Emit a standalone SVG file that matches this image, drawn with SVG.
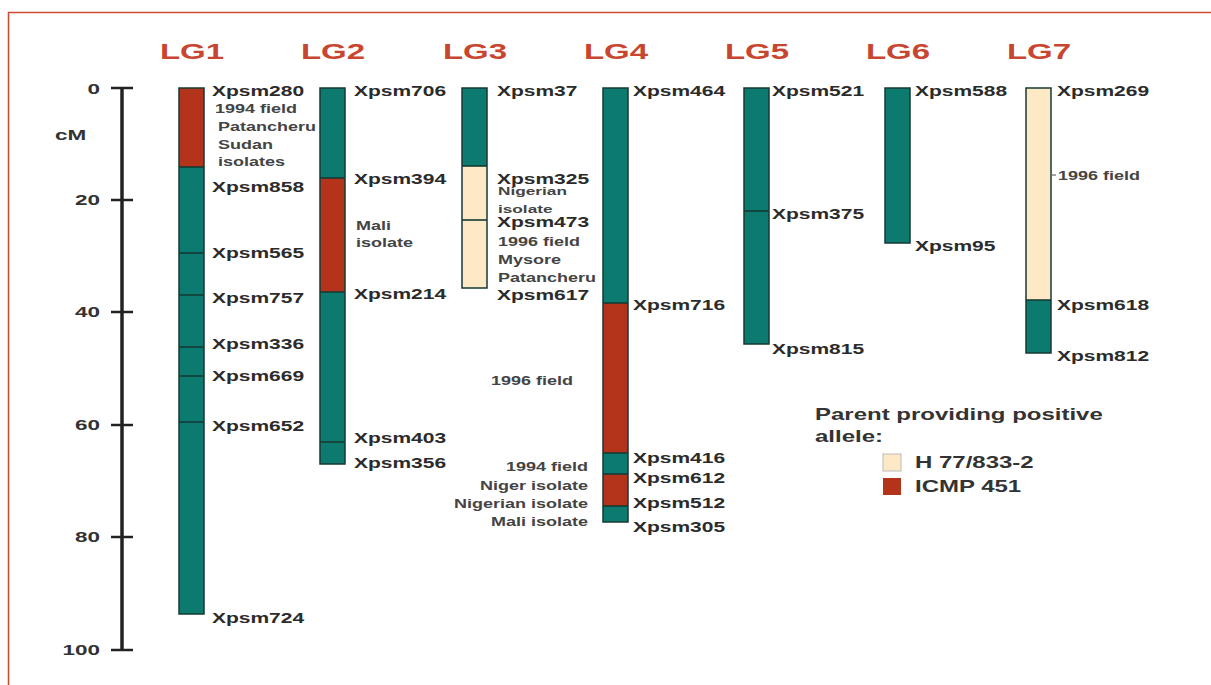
<svg xmlns="http://www.w3.org/2000/svg" width="1211" height="685" viewBox="0 0 1211 685">
<style>
.bar{stroke:#163a34;stroke-width:1.5}
.teal{fill:#0d7a6f}
.red{fill:#b3341b}
.cream{fill:#fde9c6}
.mk{stroke:#163a34;stroke-width:1.6}
text{font-family:"Liberation Sans",Arial,sans-serif;font-weight:bold}
.m{font-size:14px;fill:#2b2b2b}
.a{font-size:12px;fill:#444}
.ttl{font-size:22px;fill:#c8462f;text-anchor:middle}
.ax{font-size:15px;fill:#333}
.lg{font-size:16px;fill:#333}
.end{text-anchor:end}
</style>
<rect width="1211" height="685" fill="#ffffff"/>
<path d="M8.5 685 V12.5 H1211" fill="none" stroke="#cc4a30" stroke-width="1.5"/>

<g id="axis">
<line x1="122" y1="88" x2="122" y2="650" stroke="#222" stroke-width="3.5"/>
<g stroke="#222" stroke-width="2.5">
<line x1="111" y1="88" x2="133" y2="88"/>
<line x1="111" y1="200" x2="133" y2="200"/>
<line x1="111" y1="312" x2="133" y2="312"/>
<line x1="111" y1="425" x2="133" y2="425"/>
<line x1="111" y1="537" x2="133" y2="537"/>
<line x1="111" y1="650" x2="133" y2="650"/>
</g>
<g transform="scale(1.5 1)">
<text class="ax end" x="66.667" y="94">0</text>
<text class="ax end" x="66.667" y="205">20</text>
<text class="ax end" x="66.667" y="317">40</text>
<text class="ax end" x="66.667" y="430">60</text>
<text class="ax end" x="66.667" y="542">80</text>
<text class="ax end" x="66.667" y="655">100</text>
<text class="ax" x="36.667" y="140">cM</text>
</g>
</g>

<g id="LG1">
<rect class="red" x="179" y="88" width="25" height="79"/>
<rect class="teal" x="179" y="167" width="25" height="447"/>
<rect class="bar" x="179" y="88" width="25" height="526" fill="none"/>
<g class="mk"><line x1="179" y1="167" x2="204" y2="167"/><line x1="179" y1="253" x2="204" y2="253"/><line x1="179" y1="295" x2="204" y2="295"/><line x1="179" y1="347" x2="204" y2="347"/><line x1="179" y1="376" x2="204" y2="376"/><line x1="179" y1="422" x2="204" y2="422"/></g>
<g transform="scale(1.5 1)">
<text class="ttl" x="128" y="59">LG1</text>
<text class="m" x="141.333" y="96">Xpsm280</text>
<text class="a" x="143.333" y="113">1994 field</text>
<text class="a" x="145.333" y="131">Patancheru</text>
<text class="a" x="145.333" y="149">Sudan</text>
<text class="a" x="145.333" y="166">isolates</text>
<text class="m" x="141.333" y="192">Xpsm858</text>
<text class="m" x="141.333" y="258">Xpsm565</text>
<text class="m" x="141.333" y="303">Xpsm757</text>
<text class="m" x="141.333" y="349">Xpsm336</text>
<text class="m" x="141.333" y="381">Xpsm669</text>
<text class="m" x="141.333" y="431">Xpsm652</text>
<text class="m" x="141.333" y="623">Xpsm724</text>
</g>
</g>

<g id="LG2">
<rect class="teal" x="320" y="88" width="25" height="90"/>
<rect class="red" x="320" y="178" width="25" height="114"/>
<rect class="teal" x="320" y="292" width="25" height="172"/>
<rect class="bar" x="320" y="88" width="25" height="376" fill="none"/>
<g class="mk"><line x1="320" y1="178" x2="345" y2="178"/><line x1="320" y1="292" x2="345" y2="292"/><line x1="320" y1="442" x2="345" y2="442"/></g>
<g transform="scale(1.5 1)">
<text class="ttl" x="222" y="59">LG2</text>
<text class="m" x="236" y="96">Xpsm706</text>
<text class="m" x="236" y="184">Xpsm394</text>
<text class="a" x="237.333" y="230">Mali</text>
<text class="a" x="237.333" y="247">isolate</text>
<text class="m" x="236" y="299">Xpsm214</text>
<text class="m" x="236" y="443">Xpsm403</text>
<text class="m" x="236" y="468">Xpsm356</text>
</g>
</g>

<g id="LG3">
<rect class="teal" x="462" y="88" width="25" height="78"/>
<rect class="cream" x="462" y="166" width="25" height="122"/>
<rect class="bar" x="462" y="88" width="25" height="200" fill="none"/>
<g class="mk"><line x1="462" y1="166" x2="487" y2="166"/><line x1="462" y1="220" x2="487" y2="220"/></g>
<g transform="scale(1.5 1)">
<text class="ttl" x="316.667" y="59">LG3</text>
<text class="m" x="331.333" y="96">Xpsm37</text>
<text class="m" x="331.333" y="184">Xpsm325</text>
<text class="a" x="332" y="195" style="font-size:11.5px">Nigerian</text>
<text class="a" x="332" y="213" style="font-size:11.5px">isolate</text>
<text class="m" x="331.333" y="227">Xpsm473</text>
<text class="a" x="332" y="246">1996 field</text>
<text class="a" x="332" y="264">Mysore</text>
<text class="a" x="332" y="282">Patancheru</text>
<text class="m" x="331.333" y="300">Xpsm617</text>
</g>
</g>

<g id="LG4">
<rect class="teal" x="603" y="88" width="25" height="215"/>
<rect class="red" x="603" y="303" width="25" height="150"/>
<rect class="teal" x="603" y="453" width="25" height="21"/>
<rect class="red" x="603" y="474" width="25" height="32"/>
<rect class="teal" x="603" y="506" width="25" height="16"/>
<rect class="bar" x="603" y="88" width="25" height="434" fill="none"/>
<g class="mk"><line x1="603" y1="303" x2="628" y2="303"/><line x1="603" y1="453" x2="628" y2="453"/><line x1="603" y1="474" x2="628" y2="474"/><line x1="603" y1="506" x2="628" y2="506"/></g>
<g transform="scale(1.5 1)">
<text class="ttl" x="410.667" y="59">LG4</text>
<text class="m" x="422" y="96">Xpsm464</text>
<text class="m" x="422" y="310">Xpsm716</text>
<text class="a end" x="382" y="385">1996 field</text>
<text class="m" x="422" y="463">Xpsm416</text>
<text class="m" x="422" y="483">Xpsm612</text>
<text class="m" x="422" y="508">Xpsm512</text>
<text class="m" x="422" y="532">Xpsm305</text>
<text class="a end" x="392" y="471">1994 field</text>
<text class="a end" x="392" y="490">Niger isolate</text>
<text class="a end" x="392" y="508">Nigerian isolate</text>
<text class="a end" x="392" y="526">Mali isolate</text>
</g>
</g>

<g id="LG5">
<rect class="teal" x="744" y="88" width="25" height="256"/>
<rect class="bar" x="744" y="88" width="25" height="256" fill="none"/>
<line class="mk" x1="744" y1="211" x2="769" y2="211"/>
<g transform="scale(1.5 1)">
<text class="ttl" x="504.667" y="59">LG5</text>
<text class="m" x="514.667" y="96">Xpsm521</text>
<text class="m" x="514.667" y="219">Xpsm375</text>
<text class="m" x="514.667" y="354">Xpsm815</text>
</g>
</g>

<g id="LG6">
<rect class="teal" x="885" y="88" width="25" height="155"/>
<rect class="bar" x="885" y="88" width="25" height="155" fill="none"/>
<g transform="scale(1.5 1)">
<text class="ttl" x="598.667" y="59">LG6</text>
<text class="m" x="610" y="96">Xpsm588</text>
<text class="m" x="610" y="251">Xpsm95</text>
</g>
</g>

<g id="LG7">
<rect class="cream" x="1026" y="88" width="25" height="212"/>
<rect class="teal" x="1026" y="300" width="25" height="53"/>
<rect class="bar" x="1026" y="88" width="25" height="265" fill="none"/>
<line class="mk" x1="1026" y1="300" x2="1051" y2="300"/>
<g transform="scale(1.5 1)">
<text class="ttl" x="692.667" y="59">LG7</text>
<text class="m" x="704.667" y="96">Xpsm269</text>
<text class="a" x="705.333" y="180">1996 field</text>
<text class="m" x="704.667" y="310">Xpsm618</text>
<text class="m" x="704.667" y="361">Xpsm812</text>
</g>
</g>

<g id="connectors">
<line x1="1051" y1="175" x2="1056" y2="175" stroke="#666" stroke-width="1.2"/>
</g>

<g id="legend">
<rect class="cream" x="883" y="454" width="18" height="17" stroke="#bbb" stroke-width="1"/>
<rect class="red" x="883" y="478" width="18" height="17"/>
<g transform="scale(1.5 1)">
<text class="lg" x="543.333" y="420">Parent providing positive</text>
<text class="lg" x="543.333" y="442">allele:</text>
<text class="lg" x="610" y="468">H 77/833-2</text>
<text class="lg" x="610" y="492">ICMP 451</text>
</g>
</g>
</svg>
